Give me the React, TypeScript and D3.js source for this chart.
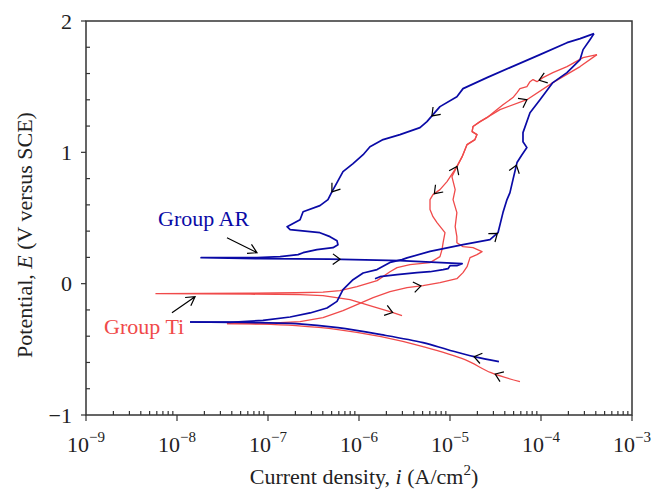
import React from 'react';
import * as d3 from 'd3';

type P = [number, number];

const xTickValues = [1e-9, 1e-8, 1e-7, 1e-6, 1e-5, 1e-4, 1e-3];
const xTickExponents = ['−9', '−8', '−7', '−6', '−5', '−4', '−3'];
const yTickValues = [-1, 0, 1, 2];
const yTickLabels = ['−1', '0', '1', '2'];

// Group AR (blue)
const blueCathodic: P[] = [
  [3.45e-5, -0.594], [1.84e-5, -0.556], [9.5e-6, -0.503], [5.05e-6, -0.449],
  [1.75e-6, -0.388], [5.87e-7, -0.335], [2.03e-7, -0.305], [8.2e-8, -0.297],
  [3.82e-8, -0.293], [1.39e-8, -0.292],
];
const blueForward: P[] = [
  [1.39e-8, -0.292], [3.82e-8, -0.295], [8.8e-8, -0.28], [1.75e-7, -0.254],
  [2.9e-7, -0.223], [4.45e-7, -0.185], [5.73e-7, -0.135], [6.67e-7, -0.046],
  [8.6e-7, 0.03], [1.11e-6, 0.081], [1.58e-6, 0.107], [2.19e-6, 0.162],
  [2.97e-6, 0.183], [3.37e-6, 0.196], [6.03e-6, 0.246], [1.39e-5, 0.297],
  [2.75e-5, 0.335], [3.37e-5, 0.388], [3.82e-5, 0.541], [4.23e-5, 0.64],
  [4.56e-5, 0.693], [4.92e-5, 0.792], [5.45e-5, 0.922], [6.18e-5, 0.982],
  [7.0e-5, 1.036], [6.34e-5, 1.081], [6.34e-5, 1.15], [7.57e-5, 1.302],
  [9.75e-5, 1.401], [1.35e-4, 1.531], [1.93e-4, 1.607], [2.69e-4, 1.706],
  [2.9e-4, 1.782], [3.45e-4, 1.858], [3.82e-4, 1.904],
];
const blueReverse: P[] = [
  [3.82e-4, 1.904], [2.69e-4, 1.866], [1.93e-4, 1.835], [9.75e-5, 1.744],
  [4.56e-5, 1.645], [2.55e-5, 1.569], [1.39e-5, 1.485], [1.19e-5, 1.424],
  [7.76e-6, 1.348], [6.5e-6, 1.287], [5.58e-6, 1.234], [4.68e-6, 1.188],
  [2.82e-6, 1.135], [1.84e-6, 1.097], [1.32e-6, 1.043], [1.11e-6, 0.982],
  [8.6e-7, 0.914], [6.67e-7, 0.853], [5.73e-7, 0.769], [5.05e-7, 0.701],
  [4.56e-7, 0.64], [3.72e-7, 0.594], [2.43e-7, 0.548], [2.25e-7, 0.487],
  [1.62e-7, 0.434], [1.75e-7, 0.411], [3.72e-7, 0.388], [4.8e-7, 0.358],
  [5.73e-7, 0.327], [5.87e-7, 0.297], [5.18e-7, 0.274], [3.45e-7, 0.259],
  [2.43e-7, 0.236], [2.14e-7, 0.221], [1.36e-7, 0.206], [7.57e-8, 0.198],
  [1.84e-8, 0.198], [8.2e-8, 0.19], [4.8e-7, 0.187], [2.82e-6, 0.175],
  [1.36e-5, 0.152], [1.19e-5, 0.137], [1.0e-5, 0.137], [9.5e-6, 0.114],
  [8.4e-6, 0.107], [6.03e-6, 0.091], [4.34e-6, 0.084], [2.62e-6, 0.069],
  [1.7e-6, 0.053], [1.5e-6, 0.038],
];

// Group Ti (red)
const redCathodic: P[] = [
  [5.87e-5, -0.746], [2.82e-5, -0.678], [1.46e-5, -0.579], [5.05e-6, -0.48],
  [1.75e-6, -0.404], [5.87e-7, -0.35], [2.03e-7, -0.32], [8.2e-8, -0.308],
  [3.54e-8, -0.305],
];
const redForward: P[] = [
  [3.54e-8, -0.305], [8.2e-8, -0.305], [2.25e-7, -0.289], [4.02e-7, -0.259],
  [6.67e-7, -0.206], [9.5e-7, -0.16], [1.43e-6, -0.107], [2.19e-6, -0.061],
  [3.37e-6, -0.03], [5.05e-6, -0.015], [7.76e-6, 0.008], [1.19e-5, 0.038],
  [1.39e-5, 0.084], [1.54e-5, 0.129], [1.66e-5, 0.198], [1.98e-5, 0.221],
  [2.25e-5, 0.244], [1.79e-5, 0.274], [1.39e-5, 0.282], [1.19e-5, 0.312],
  [1.19e-5, 0.358], [1.14e-5, 0.434], [1.19e-5, 0.541], [1.08e-5, 0.64],
  [1.14e-5, 0.716], [1.05e-5, 0.815], [1.19e-5, 0.891], [1.36e-5, 0.967],
  [1.54e-5, 1.059], [1.88e-5, 1.097], [1.98e-5, 1.135], [1.75e-5, 1.158],
  [1.79e-5, 1.196], [2.14e-5, 1.234], [3.54e-5, 1.325], [7.0e-5, 1.401],
  [1.35e-4, 1.531], [2.69e-4, 1.653], [4.12e-4, 1.744],
];
const redReverse: P[] = [
  [4.12e-4, 1.744], [2.9e-4, 1.721], [1.93e-4, 1.653], [1.35e-4, 1.607],
  [1.05e-4, 1.569], [9.04e-5, 1.538], [8.17e-5, 1.554], [7.57e-5, 1.538],
  [7.0e-5, 1.5], [5.87e-5, 1.485], [5.45e-5, 1.455], [4.92e-5, 1.417],
  [3.82e-5, 1.363], [2.97e-5, 1.302], [2.55e-5, 1.264], [2.14e-5, 1.234],
  [1.79e-5, 1.196], [1.75e-5, 1.158], [1.98e-5, 1.135], [1.88e-5, 1.097],
  [1.54e-5, 1.059], [1.36e-5, 0.967], [1.19e-5, 0.891], [9.27e-6, 0.777],
  [7.76e-6, 0.716], [6.5e-6, 0.678], [6.03e-6, 0.64], [6.03e-6, 0.564],
  [6.5e-6, 0.51], [7.2e-6, 0.465], [8.81e-6, 0.388], [8.4e-6, 0.312],
  [8.17e-6, 0.259], [7.76e-6, 0.206], [6.03e-6, 0.16], [3.63e-6, 0.145],
  [2.62e-6, 0.122], [2.19e-6, 0.091], [1.58e-6, 0.023], [9.5e-7, -0.023],
  [6.18e-7, -0.053], [4.02e-7, -0.065], [2.03e-7, -0.069], [6.34e-8, -0.072],
  [5.87e-9, -0.076], [6.34e-8, -0.08], [2.25e-7, -0.084], [4.02e-7, -0.091],
  [7.96e-7, -0.122], [1.43e-6, -0.175], [2.19e-6, -0.213], [2.97e-6, -0.244],
];

const seriesByName: Record<string, P[]> = {
  blueCathodic, blueForward, blueReverse, redCathodic, redForward, redReverse,
};

const directionArrows: { line: string; at: P }[] = [
  { line: 'blueCathodic', at: [1.84e-5, -0.556] },
  { line: 'blueReverse', at: [6.2e-7, 0.186] },
  { line: 'blueForward', at: [3.3e-5, 0.385] },
  { line: 'blueForward', at: [5.1e-5, 0.906] },
  { line: 'blueReverse', at: [6.5e-6, 1.27] },
  { line: 'blueReverse', at: [5.0e-7, 0.7] },
  { line: 'redCathodic', at: [3.1e-5, -0.7] },
  { line: 'redForward', at: [4.8e-6, -0.02] },
  { line: 'redReverse', at: [2.3e-6, -0.236] },
  { line: 'redReverse', at: [6.5e-6, 0.7] },
  { line: 'redForward', at: [1.38e-5, 0.87] },
  { line: 'redForward', at: [7.1e-5, 1.39] },
  { line: 'redReverse', at: [9.3e-5, 1.56] },
];

const labelAR = { text: 'Group AR', at: [6.2e-9, 0.442] as P, from: [3.54e-8, 0.35] as P, to: [7.57e-8, 0.236] as P };
const labelTi = { text: 'Group Ti', at: [1.58e-9, -0.381] as P, from: [8.8e-9, -0.221] as P, to: [1.58e-8, -0.099] as P };

const BLUE = '#0a0aa6';
const RED = '#f04a4a';
const FONT = '"Liberation Serif", "Times New Roman", serif';

export default function App() {
  const x = d3.scaleLog().domain([1e-9, 1e-3]).range([86, 632]);
  const y = d3.scaleLinear().domain([-1, 2]).range([415, 21]);
  const line = d3.line<P>().x(d => x(d[0])).y(d => y(d[1]));
  const smooth = d3.line<P>().x(d => x(d[0])).y(d => y(d[1])).curve(d3.curveCatmullRom.alpha(0.5));

  const chevron = (tip: [number, number], dir: [number, number], L: number, th: number) => {
    const [dx, dy] = dir;
    const rot = (a: number): [number, number] => [dx * Math.cos(a) - dy * Math.sin(a), dx * Math.sin(a) + dy * Math.cos(a)];
    const w1 = rot(th), w2 = rot(-th);
    return `M${tip[0] - L * w1[0]},${tip[1] - L * w1[1]}L${tip[0]},${tip[1]}L${tip[0] - L * w2[0]},${tip[1] - L * w2[1]}`;
  };

  const arrowPath = (name: string, at: P) => {
    const pts = seriesByName[name].map(d => [x(d[0]), y(d[1])] as [number, number]);
    const p: [number, number] = [x(at[0]), y(at[1])];
    let best = Infinity, bi = 0, proj: [number, number] = p;
    for (let i = 0; i < pts.length - 1; i++) {
      const a = pts[i], b = pts[i + 1];
      const vx = b[0] - a[0], vy = b[1] - a[1];
      const l2 = vx * vx + vy * vy || 1;
      let t = ((p[0] - a[0]) * vx + (p[1] - a[1]) * vy) / l2;
      t = Math.max(0, Math.min(1, t));
      const q: [number, number] = [a[0] + t * vx, a[1] + t * vy];
      const dd = Math.hypot(q[0] - p[0], q[1] - p[1]);
      if (dd < best) { best = dd; bi = i; proj = q; }
    }
    const a = pts[Math.max(0, bi - 1)], b = pts[Math.min(pts.length - 1, bi + 2)];
    const len = Math.hypot(b[0] - a[0], b[1] - a[1]) || 1;
    return chevron(proj, [(b[0] - a[0]) / len, (b[1] - a[1]) / len], 9, (36 * Math.PI) / 180);
  };

  const pointer = (from: P, to: P) => {
    const a: [number, number] = [x(from[0]), y(from[1])];
    const b: [number, number] = [x(to[0]), y(to[1])];
    const len = Math.hypot(b[0] - a[0], b[1] - a[1]);
    return `M${a[0]},${a[1]}L${b[0]},${b[1]}` + chevron(b, [(b[0] - a[0]) / len, (b[1] - a[1]) / len], 10, (30 * Math.PI) / 180);
  };

  const minorX: number[] = [];
  for (let e = -9; e < -3; e++) for (let m = 2; m <= 9; m++) minorX.push(m * Math.pow(10, e));
  const minorY = d3.range(-1, 2.0001, 0.2).filter(v => Math.abs(v - Math.round(v)) > 1e-6);

  const [x0, x1] = x.range();
  const [yb, yt] = y.range();

  return (
    <svg width={664} height={500} style={{ position: 'absolute', left: 0, top: 0, background: '#fff' }} fontFamily={FONT}>
      <rect x={0} y={0} width={664} height={500} fill="#fff" />
      {/* curves */}
      <g fill="none" strokeLinejoin="round">
        <path d={smooth(redCathodic) || ''} stroke={RED} strokeWidth={1.3} />
        <path d={line(redForward) || ''} stroke={RED} strokeWidth={1.3} />
        <path d={line(redReverse) || ''} stroke={RED} strokeWidth={1.3} />
        <path d={smooth(blueCathodic) || ''} stroke={BLUE} strokeWidth={1.7} />
        <path d={line(blueForward) || ''} stroke={BLUE} strokeWidth={1.7} />
        <path d={line(blueReverse) || ''} stroke={BLUE} strokeWidth={1.7} />
      </g>
      {/* direction arrows */}
      <g fill="none" stroke="#000" strokeWidth={1.2}>
        {directionArrows.map((a, i) => <path key={i} d={arrowPath(a.line, a.at)} />)}
        <path d={pointer(labelAR.from, labelAR.to)} />
        <path d={pointer(labelTi.from, labelTi.to)} />
      </g>
      <text x={x(labelAR.at[0])} y={y(labelAR.at[1])} fontSize={22} fill={BLUE}>{labelAR.text}</text>
      <text x={x(labelTi.at[0])} y={y(labelTi.at[1])} fontSize={22} fill={RED}>{labelTi.text}</text>
      {/* frame */}
      <rect x={x0} y={yt} width={x1 - x0} height={yb - yt} fill="none" stroke="#333" strokeWidth={1.5} />
      {/* x ticks */}
      <g stroke="#333" strokeWidth={1.2}>
        {xTickValues.map((v, i) => <line key={'xt' + i} x1={x(v)} x2={x(v)} y1={yb} y2={yb + 6} />)}
        {minorX.map((v, i) => <line key={'xm' + i} x1={x(v)} x2={x(v)} y1={yb} y2={yb - 4} />)}
        {yTickValues.map((v, i) => <line key={'yt' + i} x1={x0 - 5} x2={x0} y1={y(v)} y2={y(v)} />)}
        {minorY.map((v, i) => <line key={'ym' + i} x1={x0} x2={x0 + 4} y1={y(v)} y2={y(v)} />)}
      </g>
      <g fontSize={22} fill="#222">
        {xTickValues.map((v, i) => (
          <text key={'xl' + i} x={x(v)} y={452} textAnchor="middle">
            10<tspan dy={-10} fontSize={15}>{xTickExponents[i]}</tspan>
          </text>
        ))}
        {yTickValues.map((v, i) => (
          <text key={'yl' + i} x={x0 - 14} y={y(v) + 7.5} textAnchor="end">{yTickLabels[i]}</text>
        ))}
        <text x={364} y={484} textAnchor="middle">
          Current density, <tspan fontStyle="italic">i</tspan> (A/cm<tspan dy={-9} fontSize={15}>2</tspan><tspan dy={9}>)</tspan>
        </text>
        <text transform="translate(32,235) rotate(-90)" textAnchor="middle">
          Potential, <tspan fontStyle="italic">E</tspan> (V versus SCE)
        </text>
      </g>
    </svg>
  );
}
